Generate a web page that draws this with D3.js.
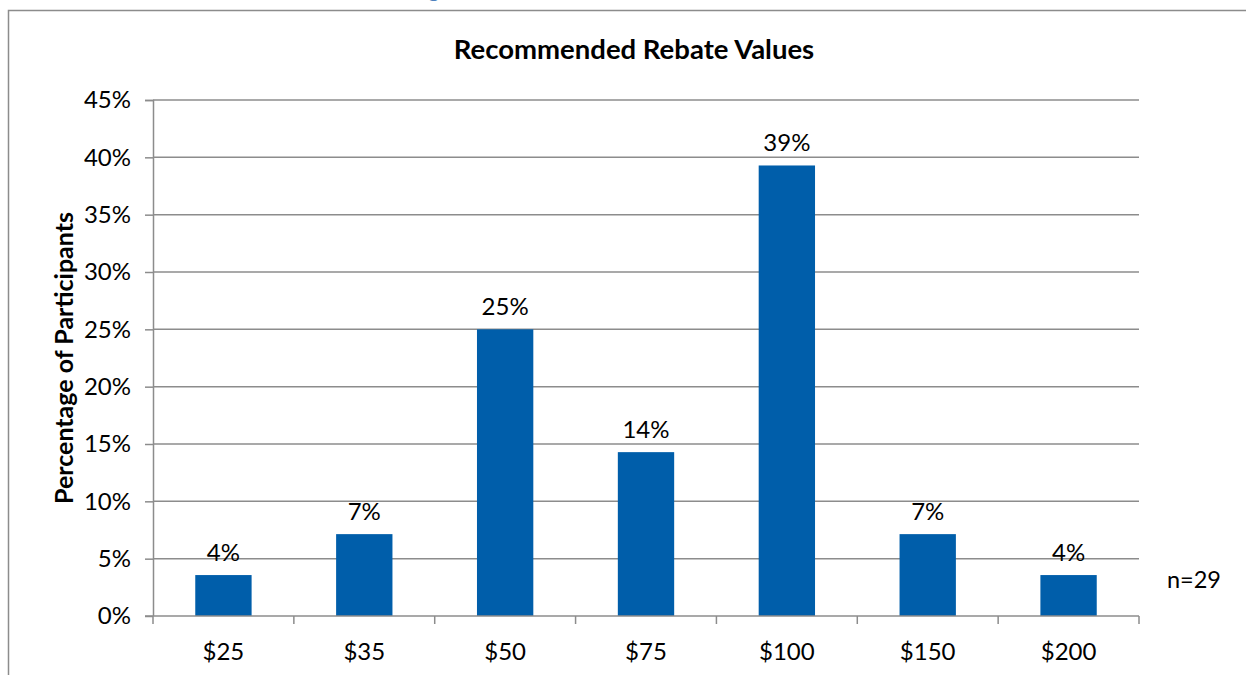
<!DOCTYPE html>
<html>
<head>
<meta charset="utf-8">
<script src="https://cdn.jsdelivr.net/npm/d3@7"></script>
<style>
  body { margin: 0; background: #fff; }
  svg text { font-family: Lato, "Open Sans", sans-serif; fill: #000; }
</style>
</head>
<body>
<div id="chart"></div>
<script>
// Chart data
var categories = ["$25", "$35", "$50", "$75", "$100", "$150", "$200"];
var percents = [3.57, 7.14, 25.0, 14.29, 39.29, 7.14, 3.57];
var yTicks = [0, 5, 10, 15, 20, 25, 30, 35, 40, 45];

var svgWidth = 1246;
var svgHeight = 675;

var margin = { top: 100, right: 107, bottom: 59, left: 153 };
var width = svgWidth - margin.left - margin.right;
var height = svgHeight - margin.top - margin.bottom;

var svg = d3.select("#chart")
  .append("svg")
  .attr("width", svgWidth)
  .attr("height", svgHeight);

// outer frame of the chart object (cut off at right and bottom)
svg.append("path")
  .attr("d", "M8.5,676 V10.5 H1247")
  .attr("fill", "none")
  .attr("stroke", "#8c8c8c")
  .attr("stroke-width", 1.5);

// bit of blue heading text cut off at the top
svg.append("text")
  .attr("x", 428)
  .attr("y", -3)
  .style("font-size", "22px")
  .style("font-weight", "bold")
  .style("fill", "#4f81bd")
  .text("g");

var chartGroup = svg.append("g")
  .attr("transform", `translate(${margin.left}, ${margin.top})`);

var xScale = d3.scaleBand()
  .domain(categories)
  .range([0, width])
  .paddingInner(0.6)
  .paddingOuter(0.3);

var yScale = d3.scaleLinear()
  .domain([0, 45])
  .range([height, 0]);

// gridlines
chartGroup.append("g")
  .selectAll("line")
  .data(yTicks.slice(1))
  .enter()
  .append("line")
  .attr("x1", 0)
  .attr("x2", width)
  .attr("y1", d => yScale(d))
  .attr("y2", d => yScale(d))
  .attr("stroke", "#8c8c8c")
  .attr("stroke-width", 1.5);

// y axis
var leftAxis = d3.axisLeft(yScale)
  .tickValues(yTicks)
  .tickSize(8)
  .tickPadding(14)
  .tickFormat(d => d + "%");

var yAxis = chartGroup.append("g").call(leftAxis);
yAxis.selectAll("path, line").attr("stroke", "#8c8c8c").attr("stroke-width", 1.5);
yAxis.select(".domain").attr("d", `M-8,0.5H0.5V${height}`);
yAxis.selectAll("text")
  .style("font-size", "24px")
  .style("font-family", "Lato, 'Open Sans', sans-serif");

// bars
chartGroup.selectAll("rect.bar")
  .data(percents)
  .enter()
  .append("rect")
  .attr("class", "bar")
  .attr("x", (d, i) => xScale(categories[i]))
  .attr("y", d => yScale(d))
  .attr("width", xScale.bandwidth())
  .attr("height", d => height - yScale(d))
  .attr("fill", "#005eaa");

// x axis with ticks at category boundaries
chartGroup.append("line")
  .attr("x1", -8)
  .attr("x2", width)
  .attr("y1", height)
  .attr("y2", height)
  .attr("stroke", "#8c8c8c")
  .attr("stroke-width", 1.5);

var step = xScale.step();
chartGroup.append("g")
  .selectAll("line")
  .data(d3.range(categories.length + 1))
  .enter()
  .append("line")
  .attr("x1", i => i * step)
  .attr("x2", i => i * step)
  .attr("y1", height)
  .attr("y2", height + 8)
  .attr("stroke", "#8c8c8c")
  .attr("stroke-width", 1.5);

chartGroup.append("g")
  .selectAll("text")
  .data(categories)
  .enter()
  .append("text")
  .attr("x", d => xScale(d) + xScale.bandwidth() / 2)
  .attr("y", height + 44)
  .attr("text-anchor", "middle")
  .style("font-size", "24px")
  .text(d => d);

// value labels
chartGroup.append("g")
  .selectAll("text")
  .data(percents)
  .enter()
  .append("text")
  .attr("x", (d, i) => xScale(categories[i]) + xScale.bandwidth() / 2)
  .attr("y", d => yScale(d) - 14)
  .attr("text-anchor", "middle")
  .style("font-size", "24px")
  .text(d => Math.round(d) + "%");

// title
svg.append("text")
  .attr("x", 634)
  .attr("y", 59)
  .attr("text-anchor", "middle")
  .style("font-size", "27.5px")
  .style("font-weight", "bold")
  .text("Recommended Rebate Values");

// y axis title
svg.append("text")
  .attr("transform", "translate(73, 358) rotate(-90)")
  .attr("text-anchor", "middle")
  .style("font-size", "25px")
  .style("font-weight", "bold")
  .text("Percentage of Participants");

// sample size note
svg.append("text")
  .attr("x", 1167)
  .attr("y", 588)
  .style("font-size", "23.5px")
  .text("n=29");
</script>
</body>
</html>
